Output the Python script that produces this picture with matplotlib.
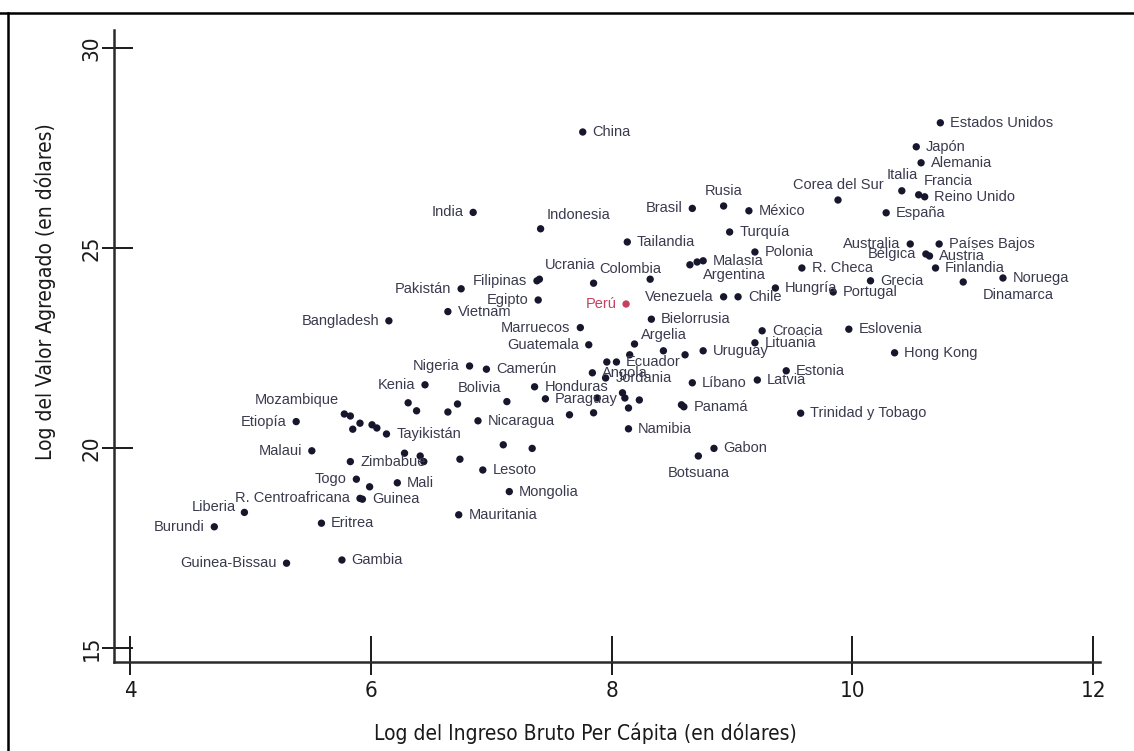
import matplotlib
matplotlib.use("Agg")
import matplotlib.pyplot as plt
from matplotlib.lines import Line2D
from matplotlib import font_manager

# datos: (pais, log ingreso per capita, log valor agregado)
paises = [
    "China", "Estados Unidos", "Japón", "Alemania", "Italia", "Francia", "Reino Unido",
    "Corea del Sur", "Rusia", "India", "Brasil", "México", "España", "Indonesia",
    "Turquía", "Tailandia", "Australia", "Países Bajos", "Polonia", "Bélgica", "Austria",
    "Malasia", "Argentina", "", "R. Checa", "Finlandia", "Noruega", "Dinamarca",
    "Grecia", "Hungría", "Portugal", "Filipinas", "Ucrania", "Colombia", "",
    "Pakistán", "Egipto", "Venezuela", "Chile", "Vietnam", "Perú", "Bangladesh",
    "Bielorrusia", "Marruecos", "Eslovenia", "Croacia", "Lituania", "Guatemala", "",
    "Argelia", "Uruguay", "Hong Kong", "", "", "", "Ecuador", "Nigeria", "Camerún",
    "Estonia", "Angola", "Jordania", "Latvia", "Líbano", "Kenia", "Honduras", "",
    "Paraguay", "", "", "", "Bolivia", "", "", "Panamá", "", "", "", "", "",
    "Trinidad y Tobago", "", "Mozambique", "", "Nicaragua", "Etiopía", "", "", "", "",
    "Namibia", "Tayikistán", "", "Gabon", "", "Malaui", "", "", "Botsuana", "",
    "Zimbabue", "", "Lesoto", "Togo", "Mali", "", "Mongolia", "R. Centroafricana",
    "Guinea", "Liberia", "Mauritania", "Eritrea", "Burundi", "Gambia", "Guinea-Bissau",
]
ingreso = [
    7.76, 10.73, 10.53, 10.57, 10.41, 10.55, 10.60,
    9.88, 8.93, 6.85, 8.67, 9.14, 10.28, 7.41,
    8.98, 8.13, 10.48, 10.72, 9.19, 10.61, 10.64,
    8.76, 8.71, 8.65, 9.58, 10.69, 11.25, 10.92,
    10.15, 9.36, 9.84, 7.38, 7.40, 7.85, 8.32,
    6.75, 7.39, 8.93, 9.05, 6.64, 8.12, 6.15,
    8.33, 7.74, 9.97, 9.25, 9.19, 7.81, 8.19,
    8.43, 8.76, 10.35, 8.15, 8.61, 7.96, 8.04, 6.82, 6.96,
    9.45, 7.84, 7.95, 9.21, 8.67, 6.45, 7.36, 8.09,
    7.45, 7.88, 8.11, 8.23, 7.13, 6.31, 6.72, 8.60, 8.58, 8.14, 6.38, 6.64, 7.85,
    9.57, 7.65, 5.78, 5.83, 6.89, 5.38, 5.91, 6.01, 6.05, 5.85,
    8.14, 6.13, 7.10, 8.85, 7.34, 5.51, 6.28, 6.41, 8.72, 6.74,
    5.83, 6.44, 6.93, 5.88, 6.22, 5.99, 7.15, 5.91,
    5.93, 4.95, 6.73, 5.59, 4.70, 5.76, 5.30,
]
valor = [
    27.90, 28.13, 27.53, 27.13, 26.43, 26.33, 26.28,
    26.20, 26.05, 25.89, 25.99, 25.93, 25.88, 25.48,
    25.40, 25.15, 25.10, 25.10, 24.90, 24.85, 24.80,
    24.68, 24.65, 24.58, 24.50, 24.50, 24.25, 24.15,
    24.18, 24.00, 23.90, 24.18, 24.22, 24.12, 24.22,
    23.98, 23.70, 23.78, 23.78, 23.41, 23.60, 23.18,
    23.22, 23.01, 22.97, 22.93, 22.63, 22.58, 22.60,
    22.43, 22.43, 22.38, 22.33, 22.33, 22.15, 22.15, 22.05, 21.97,
    21.93, 21.88, 21.75, 21.70, 21.63, 21.58, 21.53, 21.38,
    21.23, 21.25, 21.25, 21.20, 21.16, 21.13, 21.10, 21.03, 21.08, 21.00, 20.93, 20.90, 20.88,
    20.87, 20.83, 20.85, 20.80, 20.68, 20.66, 20.62, 20.58, 20.50, 20.47,
    20.48, 20.35, 20.08, 19.99, 19.99, 19.93, 19.87, 19.80, 19.80, 19.72,
    19.66, 19.66, 19.45, 19.22, 19.13, 19.03, 18.91, 18.74,
    18.72, 18.39, 18.33, 18.12, 18.03, 17.20, 17.12,
]
# posicion de la etiqueta (reloj, estilo Stata)
reloj = [
    3, 3, 3, 3, 12, 1, 3,
    12, 12, 9, 9, 3, 3, 1,
    3, 3, 9, 3, 3, 9, 3,
    3, 4, 3, 3, 3, 3, 5,
    3, 3, 3, 9, 1, 1, 3,
    9, 9, 9, 3, 3, 9, 9,
    3, 9, 3, 3, 3, 9, 3,
    12, 3, 3, 3, 3, 3, 3, 9, 3,
    3, 3, 3, 3, 3, 9, 3, 3,
    3, 3, 3, 3, 11, 3, 3, 3, 3, 3, 3, 3, 3,
    3, 3, 11, 3, 3, 9, 3, 3, 3, 3,
    3, 3, 3, 3, 3, 9, 3, 3, 6, 3,
    3, 3, 3, 9, 3, 3, 3, 9,
    3, 10, 3, 3, 9, 3, 9,
]

xticks = [4, 6, 8, 10, 12]
yticks = [15, 20, 25, 30]

POS = {
    3: ((7, 0), "left", "center"),
    9: ((-7, 0), "right", "center"),
    12: ((0, 6), "center", "bottom"),
    1: ((4, 5), "left", "bottom"),
    11: ((-4, 5), "right", "bottom"),
    4: ((4, -4), "left", "top"),
    5: ((14, -4), "left", "top"),
    6: ((0, -7), "center", "top"),
    10: ((-6, 4), "right", "center"),
}

# fuente estrecha para los ejes (parecida a Calibri)
nombres = {f.name for f in font_manager.fontManager.ttflist}
if "Liberation Sans Narrow" in nombres:
    ejes_fp = dict(family="Liberation Sans Narrow")
else:
    ejes_fp = dict(family="DejaVu Sans", stretch="condensed")

dot_col = "#16162c"
txt_col = "#3a3a4e"
peru_col = "#c4415f"

fig = plt.figure(figsize=(11.34, 7.51), dpi=100)
ax = fig.add_axes([114 / 1134, 1 - 662 / 751, 986 / 1134, 632 / 751])

cols = [peru_col if p == "Perú" else dot_col for p in paises]
ax.scatter(ingreso, valor, s=28, c=cols, zorder=3, linewidths=0)

for p, xv, yv, r in zip(paises, ingreso, valor, reloj):
    if not p:
        continue
    off, ha, va = POS[r]
    ax.annotate(p, (xv, yv), xytext=off, textcoords="offset points",
                ha=ha, va=va, fontsize=10.5, family="Liberation Sans",
                color=peru_col if p == "Perú" else txt_col, zorder=4)

ax.set_xlim(3.867, 12.056)
ax.set_ylim(14.65, 30.45)
for s in ["top", "right"]:
    ax.spines[s].set_visible(False)
for s in ["left", "bottom"]:
    ax.spines[s].set_linewidth(1.8)
    ax.spines[s].set_color("#2a2a2a")

ax.set_xticks(xticks)
ax.set_yticks(yticks)
ax.set_xticks(xticks, minor=True)
ax.set_yticks(yticks, minor=True)
ax.xaxis.remove_overlapping_locs = False
ax.yaxis.remove_overlapping_locs = False
ax.tick_params(axis="x", which="major", direction="in", length=19, width=1.4,
               color="#1a1a1a", pad=14)
ax.tick_params(axis="x", which="minor", direction="out", length=9, width=1.4,
               color="#1a1a1a", labelbottom=False)
ax.tick_params(axis="y", which="major", direction="in", length=14, width=1.4,
               color="#1a1a1a", pad=9)
ax.tick_params(axis="y", which="minor", direction="out", length=9, width=1.4,
               color="#1a1a1a", labelleft=False)
ax.set_xticklabels([str(t) for t in xticks], fontsize=16, color="#1a1a1a", **ejes_fp)
ax.set_yticklabels([str(t) for t in yticks], fontsize=16, color="#1a1a1a",
                   rotation=90, va="center", **ejes_fp)

fig.text(585 / 1134, 1 - 733 / 751, "Log del Ingreso Bruto Per Cápita (en dólares)",
         ha="center", va="center", fontsize=15, color="#1a1a1a", **ejes_fp)
fig.text(45 / 1134, 1 - 292 / 751, "Log del Valor Agregado (en dólares)",
         ha="center", va="center", rotation=90, fontsize=15, color="#1a1a1a", **ejes_fp)

# marco exterior de la captura
fig.add_artist(Line2D([0, 1], [1 - 13 / 751] * 2, color="black", lw=1.8,
                      transform=fig.transFigure))
fig.add_artist(Line2D([8 / 1134] * 2, [0, 1 - 13 / 751], color="black", lw=1.8,
                      transform=fig.transFigure))

fig.savefig("out.png", dpi=100)
